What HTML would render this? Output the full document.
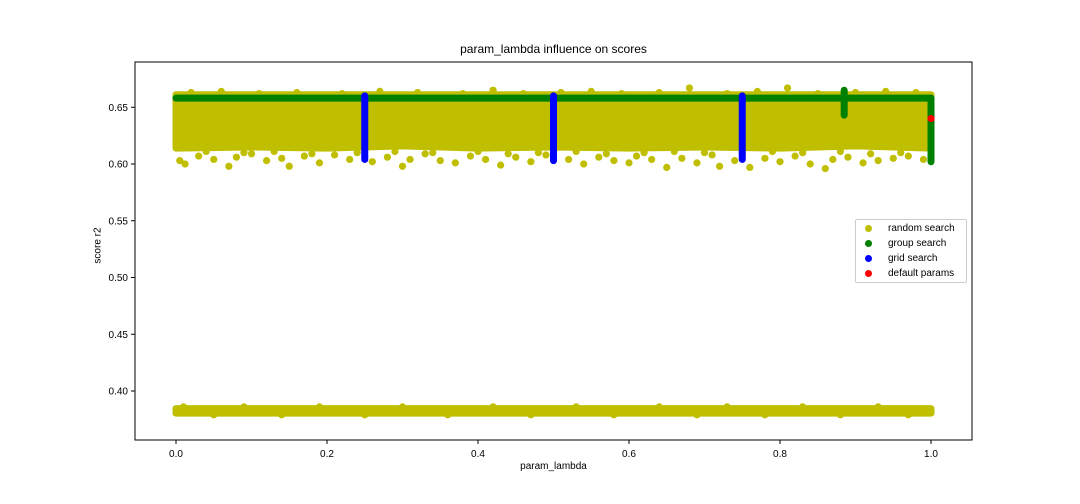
<!DOCTYPE html>
<html><head><meta charset="utf-8"><style>
body{margin:0;background:#fff;}
svg{display:block;font-family:"Liberation Sans","DejaVu Sans",sans-serif;}
</style></head><body>
<svg id="chart" width="1080" height="504"></svg>
<script>
// ---- data ----
const xTicks=[0.0,0.2,0.4,0.6,0.8,1.0];
const xTickLabels=["0.0","0.2","0.4","0.6","0.8","1.0"];
const yTicks=[0.40,0.45,0.50,0.55,0.60,0.65];
const yTickLabels=["0.40","0.45","0.50","0.55","0.60","0.65"];
// dense random-search band (per x bin)
const bandX=[0.0,0.1,0.2,0.3,0.4,0.5,0.6,0.7,0.8,0.9,1.0];
const bandLow=[0.614,0.615,0.614,0.616,0.614,0.615,0.614,0.615,0.614,0.616,0.614];
const bandHigh=[0.661,0.661,0.661,0.661,0.661,0.661,0.661,0.661,0.661,0.661,0.661];
const lowBandLow=[0.3805,0.3805,0.3805,0.3805,0.3805,0.3805,0.3805,0.3805,0.3805,0.3805,0.3805];
const lowBandHigh=[0.3845,0.3845,0.3845,0.3845,0.3845,0.3845,0.3845,0.3845,0.3845,0.3845,0.3845];
// fringe random-search points
const randX=[0.005,0.012,0.03,0.05,0.07,0.08,0.1,0.12,0.14,0.15,0.17,0.19,0.21,0.23,0.26,0.28,0.3,0.31,0.33,0.35,0.37,0.39,0.41,0.43,0.45,0.47,0.49,0.52,0.54,0.56,0.58,0.6,0.61,0.63,0.65,0.67,0.69,0.71,0.72,0.74,0.76,0.78,0.8,0.82,0.84,0.86,0.87,0.89,0.91,0.93,0.95,0.97,0.99,
 0.02,0.06,0.11,0.16,0.22,0.27,0.32,0.38,0.42,0.46,0.51,0.55,0.59,0.64,0.68,0.73,0.77,0.81,0.85,0.9,0.94,0.98,
 0.04,0.09,0.13,0.18,0.24,0.29,0.34,0.4,0.44,0.48,0.53,0.57,0.62,0.66,0.7,0.75,0.79,0.83,0.88,0.92,0.96];
const randY=[0.603,0.600,0.607,0.604,0.598,0.606,0.609,0.603,0.605,0.598,0.607,0.601,0.608,0.604,0.602,0.606,0.598,0.604,0.609,0.603,0.601,0.607,0.604,0.599,0.606,0.602,0.608,0.604,0.600,0.606,0.603,0.601,0.607,0.604,0.597,0.605,0.601,0.608,0.598,0.603,0.597,0.605,0.602,0.607,0.600,0.596,0.604,0.606,0.601,0.603,0.605,0.607,0.604,
 0.663,0.664,0.662,0.663,0.662,0.664,0.663,0.662,0.665,0.662,0.663,0.664,0.662,0.663,0.667,0.662,0.664,0.667,0.662,0.663,0.664,0.663,
 0.611,0.610,0.611,0.609,0.610,0.611,0.610,0.611,0.609,0.610,0.611,0.609,0.610,0.611,0.610,0.609,0.611,0.610,0.611,0.609,0.610];
const lowX=[0.01,0.05,0.09,0.14,0.19,0.25,0.3,0.36,0.42,0.47,0.53,0.58,0.64,0.69,0.73,0.78,0.83,0.88,0.93,0.97];
const lowY=[0.386,0.379,0.386,0.379,0.386,0.379,0.386,0.379,0.386,0.379,0.386,0.379,0.386,0.379,0.386,0.379,0.386,0.379,0.386,0.379];
// group search segments
const groupX1=[0.0,0.885,1.0];
const groupY1=[0.658,0.643,0.602];
const groupX2=[1.0,0.885,1.0];
const groupY2=[0.658,0.665,0.658];
// grid search vertical runs
const gridX=[0.25,0.5,0.75];
const gridLow=[0.604,0.603,0.604];
const gridHigh=[0.660,0.660,0.660];
const defaultX=[1.0];
const defaultY=[0.640];
// ---- axes ----
const L=135,R=972,T=62,B=440;
const sx=v=>176+v*755;
const sy=v=>164-(v-0.60)/0.05*56.75;
const svg=document.getElementById('chart');
const NS='http://www.w3.org/2000/svg';
function mk(tag,attrs,parent){const e=document.createElementNS(NS,tag);for(const k in attrs)e.setAttribute(k,attrs[k]);(parent||svg).appendChild(e);return e;}
const Y='#bfbf00',G='#008000',Bl='#0000ff',Rd='#ff0000';
const gData=mk('g',{});


function band(lo,hi,name){
  let d='M'+bandX.map((x,i)=>sx(x)+','+sy(hi[i])).join('L');
  d+='L'+bandX.slice().reverse().map((x,j)=>{const i=bandX.length-1-j;return sx(x)+','+sy(lo[i]);}).join('L')+'Z';
  const p=mk('path',{d:d,fill:Y,stroke:Y,'stroke-width':7,'stroke-linejoin':'round'},gData);
  
  
}
band(bandLow,bandHigh,'random-search-upper-band');
band(lowBandLow,lowBandHigh,'random-search-lower-band');
randX.forEach((x,i)=>{const c=mk('circle',{cx:sx(x),cy:sy(randY[i]),r:3.6,fill:Y},gData);
  
  });
lowX.forEach((x,i)=>{const c=mk('circle',{cx:sx(x),cy:sy(lowY[i]),r:3.6,fill:Y},gData);
  
  });
groupX1.forEach((x,i)=>{const l=mk('line',{x1:sx(x),y1:sy(groupY1[i]),x2:sx(groupX2[i]),y2:sy(groupY2[i]),stroke:G,'stroke-width':7,'stroke-linecap':'round'},gData);
  
  });
gridX.forEach((x,i)=>{const l=mk('line',{x1:sx(x),y1:sy(gridLow[i]),x2:sx(x),y2:sy(gridHigh[i]),stroke:Bl,'stroke-width':7,'stroke-linecap':'round'},gData);
  
  });
defaultX.forEach((x,i)=>{const c=mk('circle',{cx:sx(x),cy:sy(defaultY[i]),r:3.6,fill:Rd},gData);
  
  });
const fr=mk('rect',{x:L,y:T,width:R-L,height:B-T,fill:'none',stroke:'#000','stroke-width':1});


xTicks.forEach((v,i)=>{mk('line',{x1:sx(v),y1:B,x2:sx(v),y2:B+4,stroke:'#000'});
  const t=mk('text',{x:sx(v),y:B+17,'font-size':10,'text-anchor':'middle'});t.textContent=xTickLabels[i];
  
  });
yTicks.forEach((v,i)=>{mk('line',{x1:L-4,y1:sy(v),x2:L,y2:sy(v),stroke:'#000'});
  const t=mk('text',{x:L-7,y:sy(v)+3.5,'font-size':10,'text-anchor':'end'});t.textContent=yTickLabels[i];
  
  });
</script>
<div style="position:absolute;left:0;top:0;width:1080px;height:504px;pointer-events:none;font-family:'Liberation Sans','DejaVu Sans',sans-serif;">
 <div style="position:absolute;left:0;width:1107px;top:42px;text-align:center;font-size:12px;">param_lambda influence on scores</div>
 <div style="position:absolute;left:0;width:1107px;top:461px;text-align:center;font-size:10px;">param_lambda</div>
 <div style="position:absolute;left:68px;top:240px;font-size:10px;transform:rotate(-90deg);transform-origin:center;width:60px;text-align:center;">score r2</div>
 <div style="position:absolute;left:855px;top:219px;width:110px;height:62px;border:1px solid #ccc;border-radius:2px;background:rgba(255,255,255,0.85);font-size:10px;">
  <div style="position:absolute;left:9px;top:3px;white-space:nowrap;"><span style="display:inline-block;width:7px;height:7px;border-radius:50%;background:#bfbf00;margin-right:16px;vertical-align:-1px;"></span>random search</div>
  <div style="position:absolute;left:9px;top:18px;white-space:nowrap;"><span style="display:inline-block;width:7px;height:7px;border-radius:50%;background:#008000;margin-right:16px;vertical-align:-1px;"></span>group search</div>
  <div style="position:absolute;left:9px;top:33px;white-space:nowrap;"><span style="display:inline-block;width:7px;height:7px;border-radius:50%;background:#0000ff;margin-right:16px;vertical-align:-1px;"></span>grid search</div>
  <div style="position:absolute;left:9px;top:48px;white-space:nowrap;"><span style="display:inline-block;width:7px;height:7px;border-radius:50%;background:#ff0000;margin-right:16px;vertical-align:-1px;"></span>default params</div>
 </div>
</div>
</body></html>
